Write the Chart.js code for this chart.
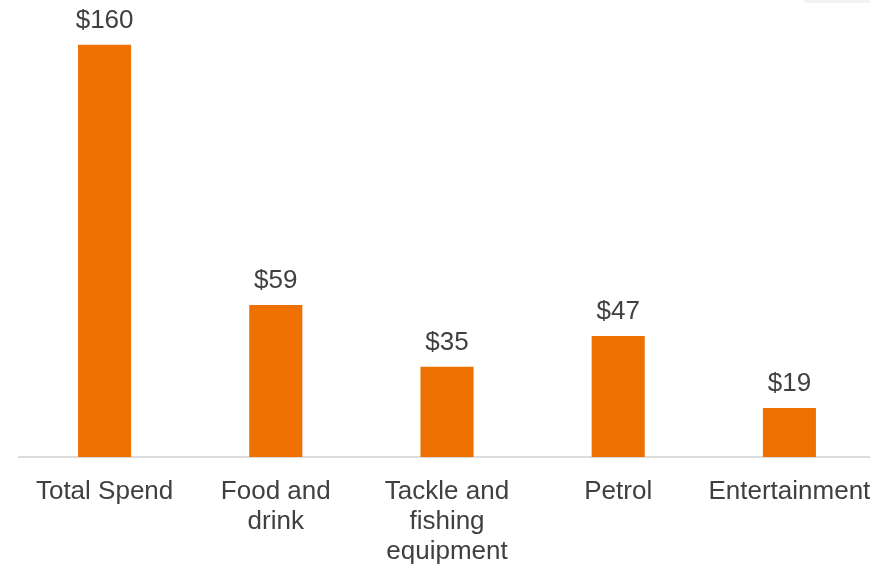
<!DOCTYPE html>
<html>
<head>
<meta charset="utf-8">
<script src="https://cdn.jsdelivr.net/npm/chart.js@4"></script>
<style>
  html, body { margin: 0; padding: 0; background: #fff; overflow: hidden; }
  #wrap { position: relative; width: 875px; height: 566px; }
  #corner { position: absolute; left: 804px; top: 0; width: 66px; height: 3px; background: #f2f2f2; }
</style>
</head>
<body>
<div id="wrap">
  <canvas id="spendChart" width="875" height="566"></canvas>
  <div id="corner"></div>
</div>
<script>
// ── SPEND BREAKDOWN ──
const categories = [
  'Total Spend',
  ['Food and', 'drink'],
  ['Tackle and', 'fishing', 'equipment'],
  'Petrol',
  'Entertainment'
];
const spend = [160, 59, 35, 47, 19];
const valueLabels = ['$160', '$59', '$35', '$47', '$19'];

const FONT = 'Liberation Sans, Arial, sans-serif';
const TEXT = '#404040';

// draws the dollar figure above each bar
const barValues = {
  id: 'barValues',
  afterDatasetsDraw(chart) {
    const { ctx } = chart;
    const meta = chart.getDatasetMeta(0);
    ctx.save();
    ctx.font = `26px ${FONT}`;
    ctx.fillStyle = TEXT;
    ctx.textAlign = 'center';
    ctx.textBaseline = 'alphabetic';
    meta.data.forEach((bar, i) => {
      ctx.fillText(valueLabels[i], bar.x, bar.y - 17);
    });
    ctx.restore();
  }
};

new Chart(document.getElementById('spendChart'), {
  type: 'bar',
  data: {
    labels: categories,
    datasets: [{
      data: spend,
      backgroundColor: '#ED7000',
      barPercentage: 0.31,
      categoryPercentage: 1
    }]
  },
  options: {
    responsive: false,
    animation: false,
    layout: { padding: { left: 19, right: 0, top: 19, bottom: 0 } },
    plugins: { legend: { display: false }, tooltip: { enabled: false } },
    scales: {
      y: {
        display: false,
        min: 0,
        max: 170
      },
      x: {
        grid: { display: false, drawTicks: false },
        border: { display: true, color: '#dcdcdc', width: 2 },
        ticks: {
          color: TEXT,
          font: { family: FONT, size: 26, lineHeight: 1.154 },
          padding: 20,
          maxRotation: 0,
          autoSkip: false
        },
        afterFit(scale) {
          // keep the axis full width; long edge labels may overhang
          scale.height = 109;
          scale.paddingLeft = 0;
          scale.paddingRight = 0;
        }
      }
    }
  },
  plugins: [barValues]
});
</script>
</body>
</html>
